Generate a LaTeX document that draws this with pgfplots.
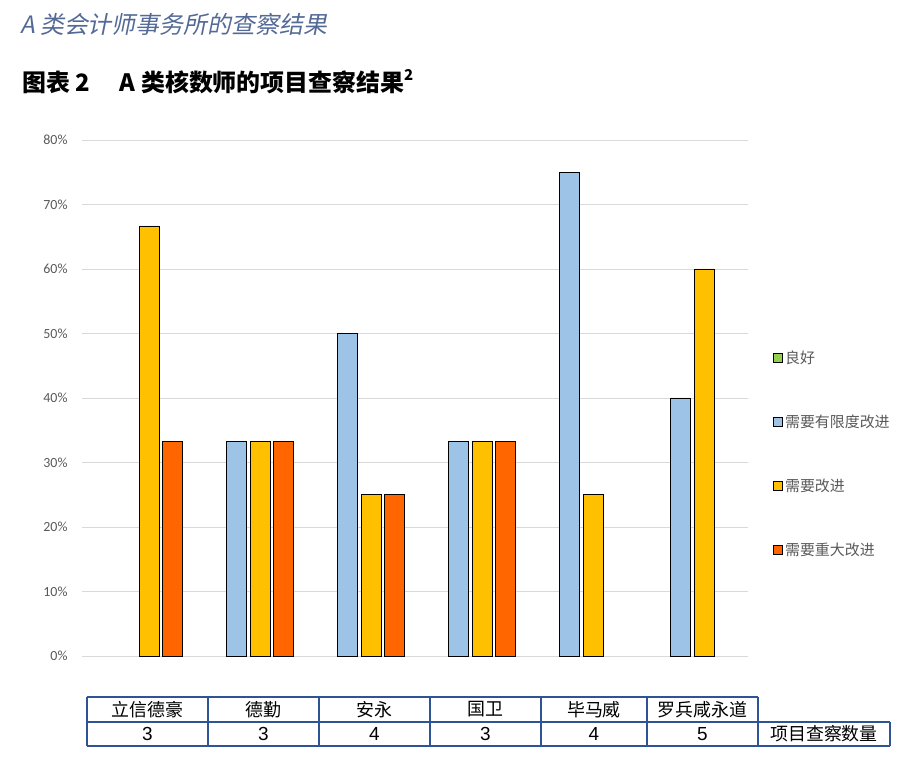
\documentclass[border=0pt]{standalone}
\usepackage{pgfplots}
\pgfplotsset{compat=1.18}
\usepackage{fontspec}
\setmainfont{Noto Sans CJK SC}
\newfontfamily\cjkit[FakeSlant=0.2]{Noto Sans CJK SC}
\newfontfamily\calib{Carlito}
\newfontfamily\arial{Liberation Sans}
\definecolor{cGreen}{HTML}{92D050}
\definecolor{cBlue}{HTML}{9DC3E6}
\definecolor{cYellow}{HTML}{FFC000}
\definecolor{cRed}{HTML}{FF6600}
\definecolor{gridgray}{HTML}{D9D9D9}
\definecolor{tickgray}{HTML}{595959}
\definecolor{titleblue}{RGB}{84,106,150}
\definecolor{tblue}{RGB}{47,84,150}
\begin{document}
\begin{tikzpicture}[x=1bp,y=1bp]
\path (0,0) rectangle (906,760);
% titles
\node[anchor=base west, inner sep=0, text=titleblue, font=\fontsize{24}{24}\selectfont\cjkit] at (20,726) {A 类会计师事务所的查察结果};
\node[anchor=base west, inner sep=0, font=\fontsize{24}{24}\selectfont\bfseries] at (22,668) {图表 2\hspace{1.25em}A 类核数师的项目查察结果\raisebox{0.5em}{\fontsize{15}{15}\selectfont 2}};
\begin{axis}[
  at={(82bp,104bp)}, anchor=south west, scale only axis,
  width=666bp, height=516bp,
  xmin=-0.5, xmax=5.5, ymin=0, ymax=80,
  axis line style={draw=none},
  xtick=\empty,
  ytick={0,10,20,30,40,50,60,70,80},
  yticklabels={0\%,10\%,20\%,30\%,40\%,50\%,60\%,70\%,80\%},
  yticklabel style={font=\fontsize{14}{14}\selectfont\calib, text=tickgray, xshift=-11bp},
  major tick length=0pt,
  ymajorgrids, grid style={color=gridgray, line width=0.9bp},
  clip=false,
  legend image code/.code={\draw[#1,draw=black,line width=0.9bp] (0bp,-4.5bp) rectangle (9bp,4.5bp);},
  legend style={at={(1.033,0.392)}, anchor=west, draw=none, fill=none,
    font=\fontsize{15}{15}\selectfont, text=tickgray, row sep=46bp,
    /tikz/every even column/.append style={column sep=1bp}},
  legend cell align=left,
]
\addlegendimage{fill=cGreen}\addlegendentry{良好}
\addlegendimage{fill=cBlue}\addlegendentry{需要有限度改进}
\addlegendimage{fill=cYellow}\addlegendentry{需要改进}
\addlegendimage{fill=cRed}\addlegendentry{需要重大改进}
% 需要有限度改进
\addplot[ybar, bar width=20bp, bar shift=-11.75bp, fill=cBlue, draw=black, line width=0.9bp, forget plot]
  coordinates {(1,33.33) (2,50) (3,33.33) (4,75) (5,40)};
% 需要改进
\addplot[ybar, bar width=20bp, bar shift=11.75bp, fill=cYellow, draw=black, line width=0.9bp, forget plot]
  coordinates {(0,66.67) (1,33.33) (2,25) (3,33.33) (4,25) (5,60)};
% 需要重大改进
\addplot[ybar, bar width=20bp, bar shift=35.25bp, fill=cRed, draw=black, line width=0.9bp, forget plot]
  coordinates {(0,33.33) (1,33.33) (2,25) (3,33.33)};
\end{axis}
% table
\begin{scope}[draw=tblue, line width=1.2bp]
\draw (87,63) -- (758,63);
\draw (87,38) -- (890,38);
\draw (87,14) -- (890,14);
\foreach \xx in {87,208,319,430,541,647,758} {\draw (\xx,63) -- (\xx,14);}
\draw (890,38) -- (890,14);
\end{scope}
\begin{scope}[every node/.style={inner sep=0, font=\fontsize{18}{18}\selectfont}]
\node at (147.5,50.5) {立信德豪};
\node at (263.5,50.5) {德勤};
\node at (374.5,50.5) {安永};
\node at (485.5,50.5) {国卫};
\node at (594,50.5) {毕马威};
\node at (702.5,50.5) {罗兵咸永道};
\node at (824,26) {项目查察数量};
\end{scope}
\begin{scope}[every node/.style={inner sep=0, font=\fontsize{19}{19}\selectfont\arial}]
\node at (147.5,26) {3};
\node at (263.5,26) {3};
\node at (374.5,26) {4};
\node at (485.5,26) {3};
\node at (594,26) {4};
\node at (702.5,26) {5};
\end{scope}
\end{tikzpicture}
\end{document}
